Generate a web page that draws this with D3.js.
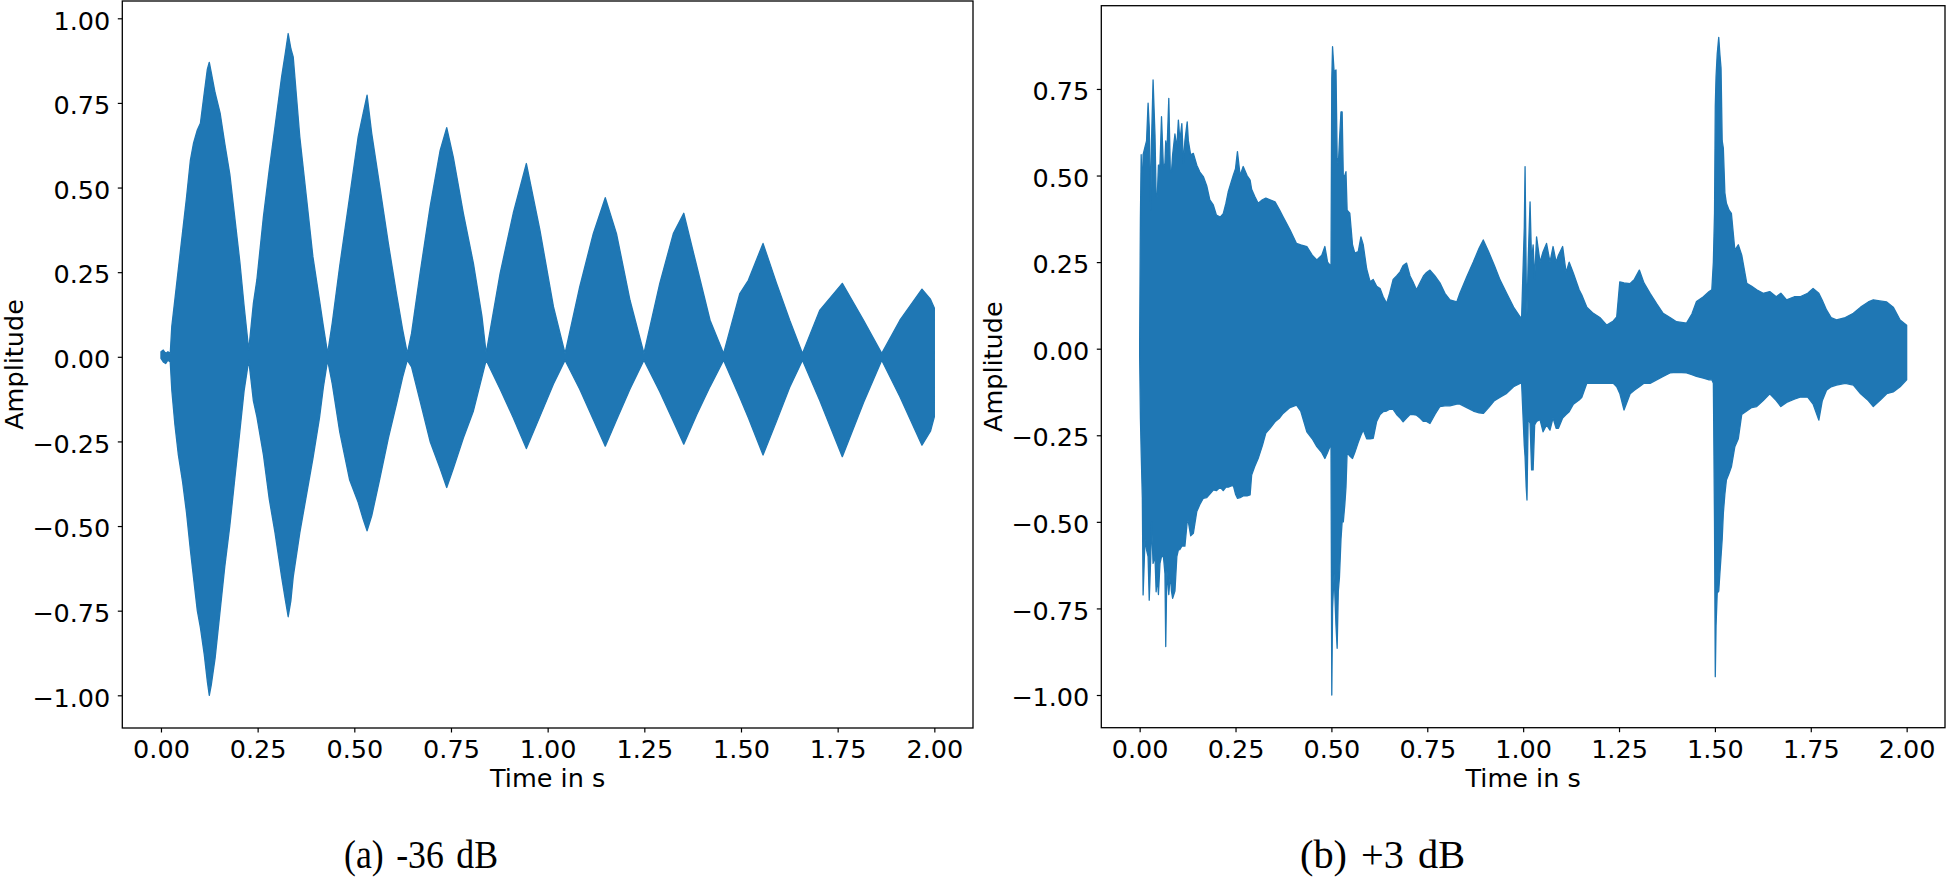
<!DOCTYPE html>
<html>
<head>
<meta charset="utf-8">
<script src="https://cdn.jsdelivr.net/npm/d3@7"></script>
<style>
  body { margin: 0; background: #fff; }
  svg { display: block; }
</style>
</head>
<body>
<svg id="chart"></svg>
<script>
const width = 1946;
const height = 881;
const color = '#1f77b4';

// (a) -36 dB : envelope of the waveform (top / bottom of the trace)
const timeA = [
  0, 0.006, 0.012, 0.018, 0.024, 0.028, 0.036, 0.045, 0.056, 0.066, 0.076, 0.084, 0.094,
  0.102, 0.112, 0.12, 0.125, 0.13, 0.14, 0.153, 0.165, 0.178, 0.19, 0.204, 0.215, 0.227,
  0.239, 0.248, 0.265, 0.28, 0.295, 0.312, 0.322, 0.329, 0.336, 0.342, 0.359, 0.376, 0.393, 0.41, 0.42, 0.431,
  0.443, 0.462, 0.488, 0.51, 0.523, 0.533, 0.545, 0.566, 0.588, 0.609, 0.625, 0.637,
  0.648, 0.67, 0.696, 0.722, 0.739, 0.756, 0.782, 0.808, 0.83, 0.841,
  0.877, 0.911, 0.945, 0.98, 1.015, 1.045,
  1.083, 1.118, 1.149, 1.178, 1.213, 1.249,
  1.29, 1.325, 1.352, 1.386, 1.42, 1.455,
  1.497, 1.519, 1.557, 1.592, 1.626, 1.659,
  1.704, 1.762, 1.817, 1.864,
  1.911, 1.968, 1.99, 2.0
];
const upperA = [
  0.015, 0.02, 0.01, 0.015, 0.01, 0.09, 0.17, 0.26, 0.37, 0.47, 0.58, 0.63, 0.67,
  0.69, 0.78, 0.85, 0.87, 0.84, 0.78, 0.72, 0.63, 0.54, 0.42, 0.28, 0.15, 0.02,
  0.158, 0.227, 0.414, 0.552, 0.68, 0.827, 0.9, 0.955, 0.91, 0.886, 0.65, 0.473, 0.295, 0.167, 0.09, 0.01,
  0.1, 0.266, 0.473, 0.65, 0.72, 0.773, 0.66, 0.502, 0.335, 0.187, 0.08, 0.01,
  0.069, 0.246, 0.443, 0.61, 0.677, 0.59, 0.424, 0.276, 0.12, 0.01,
  0.246, 0.424, 0.571, 0.374, 0.148, 0.01,
  0.207, 0.364, 0.47, 0.364, 0.167, 0.01,
  0.217, 0.364, 0.424, 0.266, 0.108, 0.01,
  0.187, 0.226, 0.335, 0.217, 0.108, 0.01,
  0.138, 0.217, 0.108, 0.01,
  0.108, 0.2, 0.17, 0.144
];
const lowerA = [
  -0.005, -0.015, -0.02, -0.01, -0.015, -0.098, -0.2, -0.29, -0.37, -0.46, -0.57, -0.65, -0.75,
  -0.8, -0.88, -0.96, -1.0, -0.97, -0.89, -0.75, -0.62, -0.5, -0.37, -0.22, -0.1, -0.01,
  -0.13, -0.177, -0.29, -0.42, -0.52, -0.65, -0.72, -0.768, -0.72, -0.65, -0.52, -0.41, -0.3, -0.18, -0.09, -0.01,
  -0.08, -0.22, -0.364, -0.43, -0.48, -0.514, -0.47, -0.36, -0.24, -0.14, -0.06, -0.01,
  -0.03, -0.13, -0.25, -0.33, -0.386, -0.33, -0.24, -0.16, -0.06, -0.01,
  -0.095, -0.18, -0.271, -0.176, -0.08, -0.01,
  -0.096, -0.185, -0.264, -0.187, -0.095, -0.01,
  -0.103, -0.19, -0.258, -0.17, -0.088, -0.01,
  -0.12, -0.18, -0.29, -0.19, -0.09, -0.01,
  -0.13, -0.295, -0.135, -0.01,
  -0.118, -0.261, -0.22, -0.177
];

// (b) +3 dB
const timeB = [
  0.000, 0.002, 0.004, 0.007, 0.009, 0.014, 0.018, 0.022, 0.025, 0.029,
  0.031, 0.035, 0.040, 0.043, 0.046, 0.049, 0.053, 0.057, 0.062, 0.066,
  0.068, 0.071, 0.076, 0.080, 0.083, 0.086, 0.092, 0.097, 0.101, 0.105,
  0.110, 0.114, 0.118, 0.124, 0.127, 0.133, 0.140, 0.149, 0.157, 0.166,
  0.175, 0.183, 0.192, 0.200, 0.210, 0.218, 0.225, 0.231, 0.244, 0.250,
  0.255, 0.262, 0.270, 0.280, 0.288, 0.292, 0.300, 0.309, 0.320, 0.329,
  0.340, 0.353, 0.365, 0.374, 0.392, 0.409, 0.420, 0.436, 0.450, 0.462,
  0.475, 0.483, 0.490, 0.496, 0.499, 0.501, 0.503, 0.507, 0.512, 0.515,
  0.518, 0.521, 0.525, 0.528, 0.531, 0.535, 0.538, 0.541, 0.548, 0.555,
  0.561, 0.570, 0.577, 0.583, 0.592, 0.601, 0.609, 0.618, 0.627, 0.635,
  0.644, 0.652, 0.661, 0.670, 0.679, 0.687, 0.696, 0.705, 0.714, 0.722,
  0.731, 0.740, 0.748, 0.757, 0.770, 0.783, 0.796, 0.809, 0.827, 0.835,
  0.853, 0.870, 0.885, 0.896, 0.910, 0.925, 0.940, 0.957, 0.975, 0.992,
  0.996, 1.003, 1.005, 1.008, 1.010, 1.013, 1.018, 1.022, 1.026, 1.030,
  1.035, 1.044, 1.052, 1.061, 1.070, 1.078, 1.086, 1.092, 1.103, 1.112,
  1.120, 1.131, 1.146, 1.153, 1.166, 1.183, 1.200, 1.218, 1.235, 1.244,
  1.252, 1.263, 1.279, 1.290, 1.303, 1.315, 1.331, 1.348, 1.365, 1.383,
  1.400, 1.426, 1.440, 1.452, 1.470, 1.485, 1.492, 1.496, 1.499, 1.501,
  1.503, 1.506, 1.510, 1.513, 1.516, 1.519, 1.522, 1.526, 1.530, 1.537,
  1.543, 1.552, 1.561, 1.570, 1.583, 1.596, 1.609, 1.626, 1.643, 1.660,
  1.672, 1.687, 1.707, 1.722, 1.742, 1.756, 1.771, 1.780, 1.791, 1.803,
  1.817, 1.840, 1.861, 1.880, 1.900, 1.913, 1.930, 1.948, 1.965, 1.983,
  2.000
];
const upperB = [
  0.02, 0.38, 0.56, 0.45, 0.56, 0.583, 0.60, 0.709, 0.64, 0.40,
  0.60, 0.776, 0.617, 0.44, 0.44, 0.53, 0.53, 0.67, 0.52, 0.536,
  0.60, 0.56, 0.723, 0.51, 0.511, 0.56, 0.62, 0.58, 0.66, 0.60,
  0.65, 0.536, 0.60, 0.655, 0.60, 0.56, 0.564, 0.53, 0.51, 0.497,
  0.47, 0.43, 0.415, 0.386, 0.38, 0.39, 0.42, 0.453, 0.50, 0.52,
  0.569, 0.50, 0.526, 0.50, 0.487, 0.46, 0.44, 0.42, 0.43, 0.435,
  0.43, 0.424, 0.40, 0.381, 0.343, 0.304, 0.30, 0.295, 0.27, 0.256,
  0.27, 0.295, 0.25, 0.242, 0.24, 0.78, 0.872, 0.80, 0.805, 0.55,
  0.53, 0.60, 0.684, 0.684, 0.50, 0.50, 0.511, 0.40, 0.391, 0.30,
  0.276, 0.28, 0.323, 0.30, 0.23, 0.193, 0.20, 0.18, 0.174, 0.15,
  0.131, 0.16, 0.20, 0.21, 0.222, 0.24, 0.247, 0.21, 0.19, 0.17,
  0.19, 0.21, 0.22, 0.227, 0.21, 0.19, 0.16, 0.141, 0.135, 0.16,
  0.208, 0.25, 0.29, 0.314, 0.28, 0.24, 0.198, 0.16, 0.12, 0.092,
  0.09, 0.35, 0.526, 0.20, 0.10, 0.25, 0.424, 0.25, 0.30, 0.20,
  0.323, 0.25, 0.28, 0.304, 0.25, 0.295, 0.25, 0.27, 0.295, 0.22,
  0.25, 0.218, 0.17, 0.155, 0.12, 0.102, 0.09, 0.068, 0.08, 0.092,
  0.193, 0.19, 0.188, 0.20, 0.227, 0.19, 0.16, 0.13, 0.102, 0.09,
  0.078, 0.074, 0.10, 0.136, 0.15, 0.165, 0.17, 0.25, 0.391, 0.70,
  0.785, 0.85, 0.899, 0.85, 0.81, 0.60, 0.579, 0.45, 0.42, 0.40,
  0.391, 0.285, 0.30, 0.27, 0.189, 0.18, 0.17, 0.16, 0.165, 0.15,
  0.16, 0.141, 0.15, 0.15, 0.16, 0.174, 0.16, 0.14, 0.112, 0.09,
  0.083, 0.09, 0.102, 0.12, 0.135, 0.141, 0.138, 0.135, 0.12, 0.083,
  0.068
];
const lowerB = [
  -0.02, -0.20, -0.30, -0.43, -0.711, -0.55, -0.581, -0.60, -0.726, -0.60,
  -0.50, -0.62, -0.60, -0.702, -0.66, -0.71, -0.62, -0.60, -0.60, -0.65,
  -0.86, -0.64, -0.71, -0.65, -0.70, -0.721, -0.70, -0.60, -0.581, -0.58,
  -0.57, -0.57, -0.57, -0.50, -0.50, -0.54, -0.533, -0.47, -0.45, -0.432,
  -0.43, -0.42, -0.408, -0.41, -0.40, -0.41, -0.40, -0.40, -0.394, -0.42,
  -0.432, -0.43, -0.425, -0.425, -0.422, -0.365, -0.34, -0.317, -0.28, -0.244,
  -0.23, -0.211, -0.20, -0.187, -0.17, -0.163, -0.18, -0.24, -0.26, -0.283,
  -0.30, -0.317, -0.30, -0.283, -0.28, -1.0, -0.75, -0.65, -0.80, -0.865,
  -0.70, -0.66, -0.55, -0.50, -0.50, -0.45, -0.40, -0.30, -0.31, -0.317,
  -0.30, -0.27, -0.25, -0.235, -0.26, -0.26, -0.259, -0.21, -0.19, -0.182,
  -0.18, -0.175, -0.175, -0.19, -0.20, -0.211, -0.20, -0.19, -0.19, -0.192,
  -0.20, -0.21, -0.21, -0.216, -0.19, -0.167, -0.165, -0.165, -0.16, -0.16,
  -0.17, -0.18, -0.185, -0.187, -0.17, -0.15, -0.14, -0.129, -0.11, -0.10,
  -0.10, -0.28, -0.312, -0.40, -0.437, -0.20, -0.215, -0.35, -0.35, -0.22,
  -0.21, -0.205, -0.24, -0.22, -0.235, -0.20, -0.23, -0.23, -0.20, -0.19,
  -0.182, -0.16, -0.148, -0.14, -0.10, -0.10, -0.10, -0.10, -0.10, -0.11,
  -0.129, -0.177, -0.13, -0.12, -0.11, -0.10, -0.10, -0.09, -0.08, -0.07,
  -0.068, -0.07, -0.075, -0.08, -0.085, -0.09, -0.09, -0.10, -0.50, -0.947,
  -0.80, -0.706, -0.70, -0.649, -0.60, -0.55, -0.475, -0.42, -0.379, -0.36,
  -0.341, -0.283, -0.26, -0.19, -0.18, -0.17, -0.167, -0.15, -0.13, -0.15,
  -0.167, -0.155, -0.146, -0.14, -0.14, -0.16, -0.206, -0.15, -0.12, -0.11,
  -0.105, -0.10, -0.105, -0.13, -0.15, -0.167, -0.15, -0.13, -0.125, -0.11,
  -0.09
];

const xTicks = [0, 0.25, 0.5, 0.75, 1, 1.25, 1.5, 1.75, 2];
const yTicksA = [-1, -0.75, -0.5, -0.25, 0, 0.25, 0.5, 0.75, 1];
const yTicksB = [-1, -0.75, -0.5, -0.25, 0, 0.25, 0.5, 0.75];
const captions = ['(a) -36 dB', '(b) +3 dB'];

const panels = [
  { time: timeA, upper: upperA, lower: lowerA, yTicks: yTicksA, caption: captions[0],
    left: 122.3, right: 973, top: 1, bottom: 728, yDomain: [-1.0966, 1.0511], capX: 421, capW: 154 },
  { time: timeB, upper: upperB, lower: lowerB, yTicks: yTicksB, caption: captions[1],
    left: 1101.3, right: 1945, top: 5.7, bottom: 727.7, yDomain: [-1.0944, 0.9904], capX: 1382.5, capW: 165 }
];

const svg = d3.select('#chart')
  .attr('width', width)
  .attr('height', height)
  .attr('viewBox', [0, 0, width, height]);

const fmt = d3.format('.2f');

panels.forEach(p => {
  const x = d3.scaleLinear().domain([-0.1, 2.1]).range([p.left, p.right]);
  const y = d3.scaleLinear().domain(p.yDomain).range([p.bottom, p.top]);

  const area = d3.area()
    .x(i => x(p.time[i]))
    .y0(i => y(p.lower[i]))
    .y1(i => y(p.upper[i]));

  svg.append('path')
    .datum(d3.range(p.time.length))
    .attr('d', area)
    .attr('fill', color)
    .attr('stroke', color)
    .attr('stroke-width', 1.3)
    .attr('stroke-linejoin', 'round');

  const xAxis = g =>
    g
      .attr('transform', `translate(0,${p.bottom})`)
      .call(d3.axisBottom(x).tickValues(xTicks).tickFormat(fmt).tickSize(4.5).tickPadding(7.5))
      .call(g => g.select('.domain').remove());

  const yAxis = g =>
    g
      .attr('transform', `translate(${p.left},0)`)
      .call(d3.axisLeft(y).tickValues(p.yTicks).tickFormat(fmt).tickSize(4.5).tickPadding(7.5))
      .call(g => g.select('.domain').remove())
      .call(g => g.selectAll('.tick text').attr('dy', '0.42em'));

  [xAxis, yAxis].forEach(ax => {
    svg.append('g')
      .call(ax)
      .attr('font-family', 'DejaVu Sans')
      .attr('font-size', 25.5)
      .call(g => g.selectAll('.tick line').attr('stroke-width', 1.2));
  });

  svg.append('rect')
    .attr('x', p.left)
    .attr('y', p.top)
    .attr('width', p.right - p.left)
    .attr('height', p.bottom - p.top)
    .attr('fill', 'none')
    .attr('stroke', '#000')
    .attr('stroke-width', 1.3);

  svg.append('text')
    .attr('x', (p.left + p.right) / 2)
    .attr('y', 787)
    .attr('text-anchor', 'middle')
    .attr('font-family', 'DejaVu Sans')
    .attr('font-size', 25.5)
    .text('Time in s');

  svg.append('text')
    .attr('transform', `translate(${p.left - 99},${(p.top + p.bottom) / 2}) rotate(-90)`)
    .attr('text-anchor', 'middle')
    .attr('font-family', 'DejaVu Sans')
    .attr('font-size', 25.5)
    .text('Amplitude');

  // sub-figure caption, squeezed to the width it has in the original
  svg.append('text')
    .attr('x', p.capX - p.capW / 2)
    .attr('y', 868)
    .attr('font-family', 'Liberation Serif')
    .attr('font-size', 40)
    .attr('word-spacing', 4)
    .attr('textLength', p.capW)
    .attr('lengthAdjust', 'spacingAndGlyphs')
    .text(p.caption);
});
</script>
</body>
</html>
